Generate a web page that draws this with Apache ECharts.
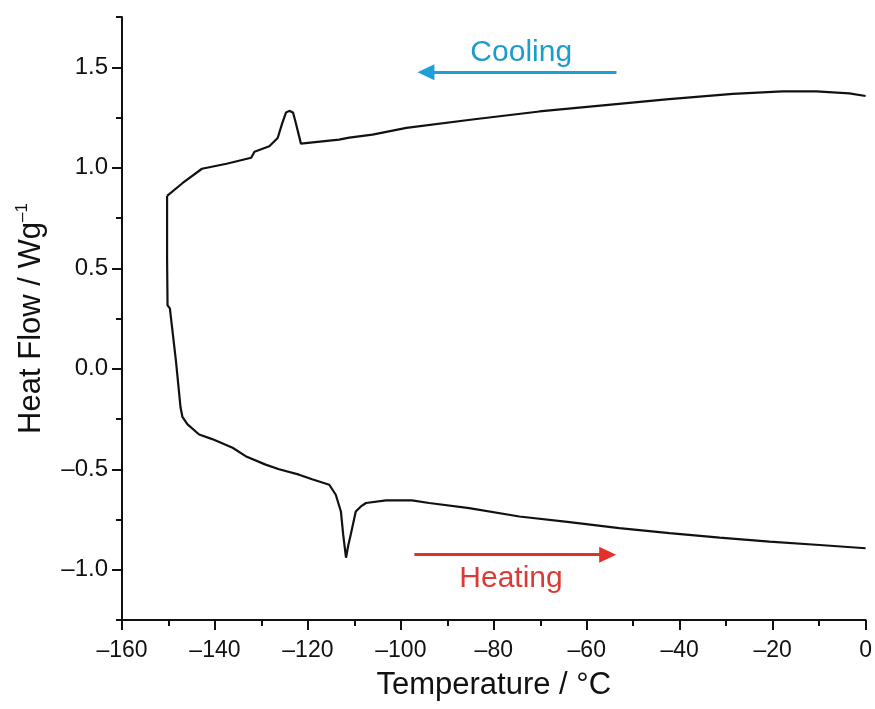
<!DOCTYPE html>
<html>
<head>
<meta charset="utf-8">
<script src="https://cdn.jsdelivr.net/npm/echarts@6/dist/echarts.min.js"></script>
<style>
  html, body { margin: 0; padding: 0; background: #fff; }
  #chart { width: 875px; height: 709px; }
</style>
</head>
<body>
<div id="chart"></div>
<script>
// ---- Data ----
const coolingT = [0, -3.5, -10.6, -17.9, -28.6, -42.9, -56.5, -70.2, -84.6, -98.8, -106.1, -111.1, -113.3, -121.5, -122.6, -123.2, -124.0, -124.7, -125.5, -126.5, -128.3, -131.5, -132.2, -137.5, -142.8, -147.0, -150.3];
const coolingH = [1.357, 1.37, 1.38, 1.38, 1.368, 1.34, 1.31, 1.28, 1.24, 1.198, 1.165, 1.15, 1.14, 1.12, 1.223, 1.275, 1.283, 1.275, 1.223, 1.148, 1.107, 1.08, 1.05, 1.02, 0.995, 0.923, 0.86];

const heatingT = [-150.3, -150.3, -150.2, -149.7, -148.4, -147.4, -147.0, -145.9, -143.4, -140.6, -136.2, -133.4, -129.1, -126.2, -121.9, -119.1, -115.4, -114.0, -112.9, -112.4, -111.8, -111.3, -110.8, -109.7, -108.6, -107.5, -103.2, -97.6, -93.9, -85.3, -74.5, -63.7, -53.0, -42.2, -31.4, -20.7, -9.9, 0];
const heatingH = [0.86, 0.55, 0.315, 0.30, 0.04, -0.193, -0.24, -0.277, -0.327, -0.35, -0.393, -0.435, -0.477, -0.50, -0.527, -0.55, -0.577, -0.627, -0.71, -0.827, -0.94, -0.877, -0.827, -0.71, -0.685, -0.668, -0.655, -0.655, -0.668, -0.693, -0.735, -0.763, -0.793, -0.818, -0.84, -0.86, -0.877, -0.893];

const yMajorTicks = [-1.0, -0.5, 0.0, 0.5, 1.0, 1.5];
const yMinorTicks = [-1.25, -0.75, -0.25, 0.25, 0.75, 1.25, 1.75];

// annotation arrows: [x start, x end], y
const coolArrowX = [-94.6, -53.6], coolArrowY = 1.475;
const heatArrowX = [-97.1, -55.5], heatArrowY = -0.925;

// ---- Chart ----
const FONT = "'Liberation Sans', Arial, Helvetica, sans-serif";
const dash = v => (v < 0 ? '\u2013' : '') + Math.abs(v);
const zip = (a, b) => a.map((v, i) => [v, b[i]]);

const chart = echarts.init(document.getElementById('chart'), null, { renderer: 'canvas' });

const axisCommon = {
  axisLine: { show: true, onZero: false, lineStyle: { color: '#111', width: 2 } },
  splitLine: { show: false }
};

chart.setOption({
  animation: false,
  backgroundColor: '#fff',
  grid: { left: 122, right: 9, top: 17, bottom: 89, containLabel: false },
  xAxis: {
    type: 'value', min: -160, max: 0, interval: 20,
    ...axisCommon,
    axisTick: { show: true, inside: false, length: 10, lineStyle: { color: '#111', width: 2 } },
    minorTick: { show: true, splitNumber: 2, length: 6, lineStyle: { color: '#111', width: 2 } },
    minorSplitLine: { show: false },
    axisLabel: { color: '#111', fontSize: 23, fontFamily: FONT, margin: 19, formatter: v => dash(v) },
    name: 'Temperature / \u00B0C', nameLocation: 'middle', nameGap: 50,
    nameTextStyle: { color: '#111', fontSize: 31, fontFamily: FONT }
  },
  yAxis: [
    {
      type: 'value', min: -1.25, max: 1.75, position: 'left',
      ...axisCommon,
      axisTick: { show: true, inside: false, length: 10, customValues: yMajorTicks, lineStyle: { color: '#111', width: 2 } },
      axisLabel: { color: '#111', fontSize: 24, fontFamily: FONT, margin: 14, customValues: yMajorTicks,
                   formatter: v => (v < 0 ? '\u2013' : '') + Math.abs(v).toFixed(1) },
      name: 'Heat Flow / Wg{sup|\u20131}', nameLocation: 'middle', nameGap: 74, nameRotate: 90,
      nameTextStyle: { color: '#111', fontSize: 31, fontFamily: FONT,
        rich: { sup: { fontSize: 17, fontFamily: FONT, color: '#111', verticalAlign: 'top', lineHeight: 34 } } }
    },
    {
      type: 'value', min: -1.25, max: 1.75, position: 'left', offset: 0,
      axisLine: { show: false, onZero: false },
      splitLine: { show: false },
      axisTick: { show: true, inside: false, length: 6, customValues: yMinorTicks, lineStyle: { color: '#111', width: 2 } },
      axisLabel: { show: false }
    }
  ],
  series: [
    {
      name: 'Cooling', type: 'line', data: zip(coolingT, coolingH),
      showSymbol: false, smooth: false,
      lineStyle: { color: '#111', width: 2.2 }
    },
    {
      name: 'Heating', type: 'line', data: zip(heatingT, heatingH),
      showSymbol: false, smooth: false,
      lineStyle: { color: '#111', width: 2.2 }
    },
    {
      type: 'line', data: [], silent: true,
      markLine: {
        silent: true, animation: false,
        symbol: ['triangle', 'none'], symbolSize: [16, 17],
        lineStyle: { color: '#1e9fd6', width: 3, type: 'solid' },
        label: { show: true, formatter: 'Cooling', position: 'insideMiddleTop', distance: 5,
                 color: '#1b9cc9', fontSize: 30, fontFamily: FONT },
        data: [[{ coord: [coolArrowX[0], coolArrowY] }, { coord: [coolArrowX[1], coolArrowY] }]]
      }
    },
    {
      type: 'line', data: [], silent: true,
      markLine: {
        silent: true, animation: false,
        symbol: ['none', 'triangle'], symbolSize: [16, 17],
        lineStyle: { color: '#e2302a', width: 3, type: 'solid' },
        label: { show: true, formatter: 'Heating', position: 'insideMiddleBottom', distance: 9,
                 color: '#dc3a34', fontSize: 30, fontFamily: FONT },
        data: [[{ coord: [heatArrowX[0], heatArrowY] }, { coord: [heatArrowX[1], heatArrowY] }]]
      }
    }
  ]
});
</script>
</body>
</html>
